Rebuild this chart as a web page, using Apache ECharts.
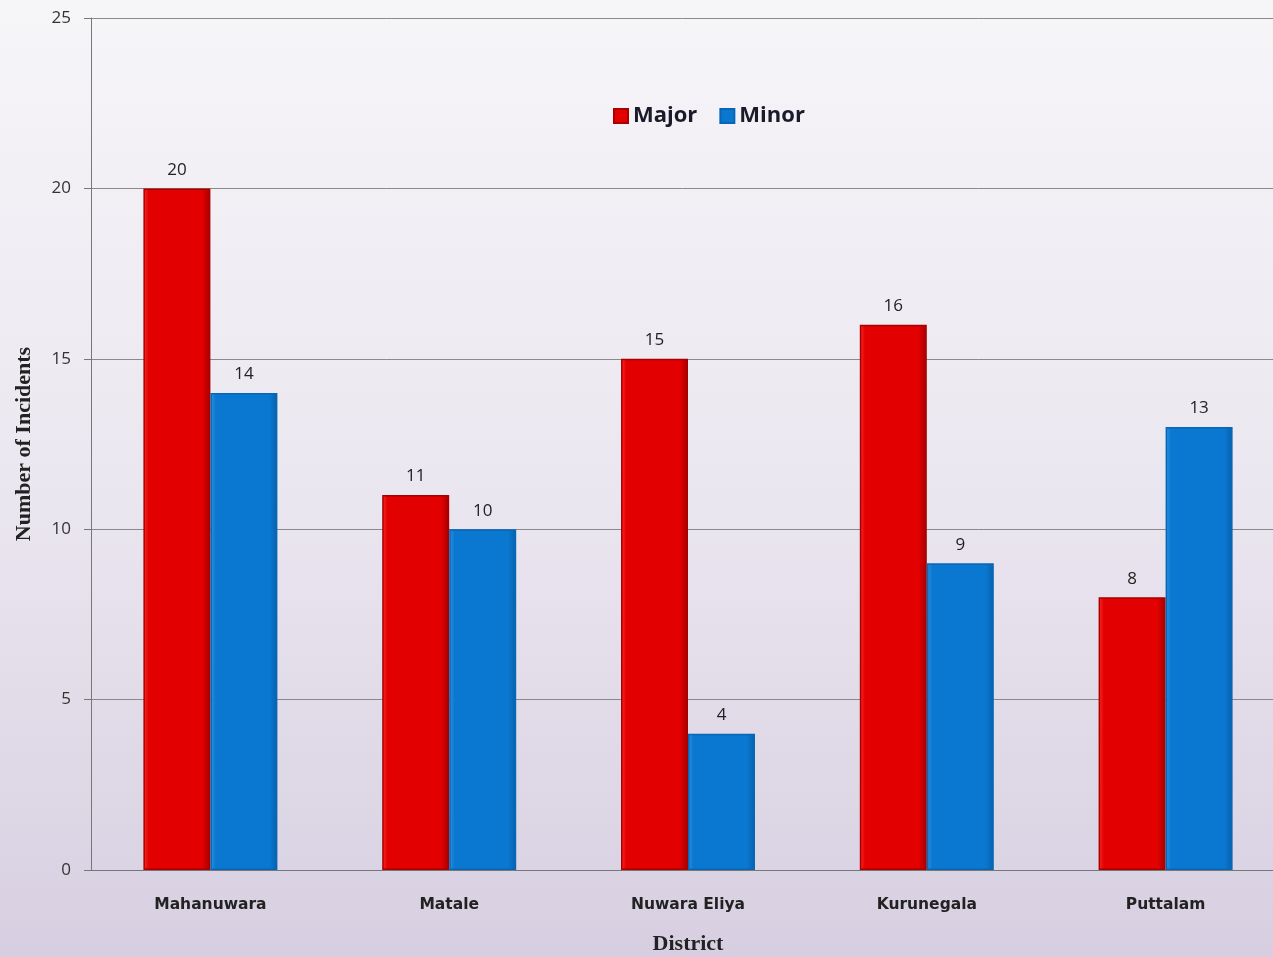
<!DOCTYPE html>
<html>
<head>
<meta charset="utf-8">
<script src="https://cdn.jsdelivr.net/npm/echarts@6/dist/echarts.min.js"></script>
<style>
  html, body { margin: 0; padding: 0; }
  #chart { width: 1273px; height: 957px; }
</style>
</head>
<body>
<div id="chart"></div>
<script>
// districts and incident counts
var districts = ['Mahanuwara', 'Matale', 'Nuwara Eliya', 'Kurunegala', 'Puttalam'];
var majorCounts = [20, 11, 15, 16, 8];
var minorCounts = [14, 10, 4, 9, 13];
var yTicks = [0, 5, 10, 15, 20, 25];

var chart = echarts.init(document.getElementById('chart'));

// horizontal shading gives the bars a bevelled look
function shade(light, mid, dark) {
  return new echarts.graphic.LinearGradient(0, 0, 1, 0, [
    { offset: 0, color: light },
    { offset: 0.08, color: mid },
    { offset: 0.88, color: mid },
    { offset: 1, color: dark }
  ]);
}

var labelStyle = {
  show: true,
  position: 'top',
  distance: 10,
  color: '#222',
  fontSize: 17,
  fontFamily: 'Open Sans'
};

chart.setOption({
  backgroundColor: new echarts.graphic.LinearGradient(0, 0, 0, 1, [
    { offset: 0, color: '#f6f5f8' },
    { offset: 0.5, color: '#ebe7f0' },
    { offset: 1, color: '#d7cfe1' }
  ]),
  animation: false,
  legend: {
    left: 608,
    top: 100,
    icon: 'rect',
    itemWidth: 14,
    itemHeight: 14,
    itemGap: 22,
    textStyle: { fontSize: 22, fontWeight: 'bold', color: '#1a1a2a', fontFamily: 'Open Sans' },
    data: ['Major', 'Minor']
  },
  // the plot runs a little past the right edge of the picture
  grid: { left: 91, right: -12, top: 18, bottom: 87, outerBoundsMode: 'none' },
  xAxis: {
    type: 'category',
    data: districts,
    name: 'District',
    nameLocation: 'middle',
    nameGap: 63,
    nameTextStyle: { fontFamily: 'Liberation Serif', fontWeight: 'bold', fontSize: 22, color: '#222' },
    axisLine: { lineStyle: { color: '#777', width: 1 } },
    axisTick: { show: false },
    axisLabel: { margin: 27, fontSize: 15.5, fontWeight: 'bold', color: '#222', fontFamily: 'DejaVu Sans' }
  },
  yAxis: {
    type: 'value',
    min: yTicks[0],
    max: yTicks[yTicks.length - 1],
    interval: 5,
    name: 'Number of Incidents',
    nameLocation: 'middle',
    nameGap: 56,
    nameRotate: 90,
    nameTextStyle: { fontFamily: 'Liberation Serif', fontWeight: 'bold', fontSize: 22, color: '#222' },
    axisLine: { show: true, lineStyle: { color: '#777', width: 1 } },
    axisTick: { show: true, length: 7, lineStyle: { color: '#777' } },
    axisLabel: { margin: 20, fontSize: 17, color: '#333', fontFamily: 'Open Sans' },
    splitLine: { lineStyle: { color: '#8a8a8a', width: 1 } }
  },
  series: [
    {
      name: 'Major',
      type: 'bar',
      data: majorCounts,
      barWidth: 67,
      barGap: '0%',
      itemStyle: {
        color: shade('#ff2a2a', '#e20000', '#a30000'),
        borderColor: '#a80000',
        borderWidth: 1.5
      },
      label: labelStyle
    },
    {
      name: 'Minor',
      type: 'bar',
      data: minorCounts,
      barWidth: 67,
      itemStyle: {
        color: shade('#2f93e0', '#0a78d0', '#0760ac'),
        borderColor: '#0866b6',
        borderWidth: 1.5
      },
      label: labelStyle
    }
  ]
});
</script>
</body>
</html>
